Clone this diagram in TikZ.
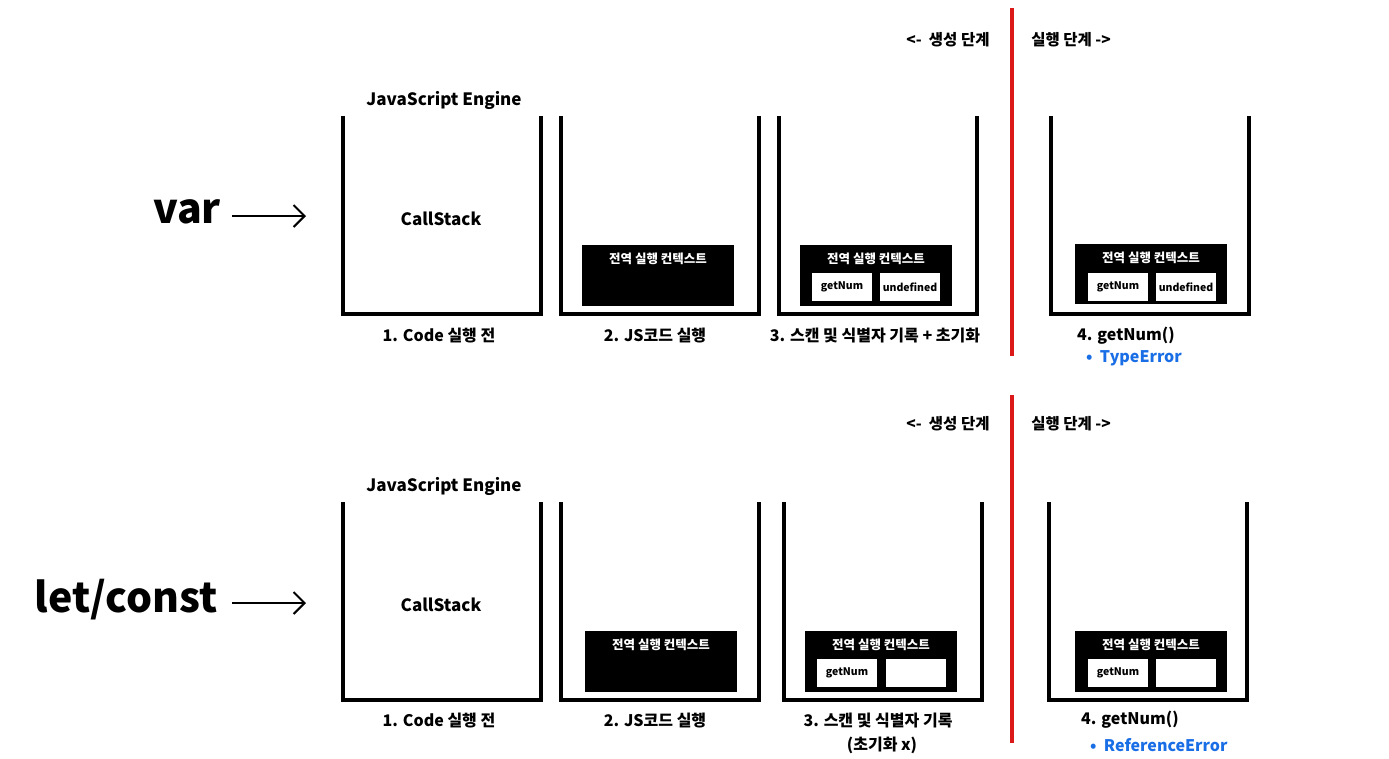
\documentclass[tikz,border=0pt]{standalone}
\usepackage{fontspec}
\setmainfont{Noto Sans CJK KR}
\usetikzlibrary{arrows.meta}
\definecolor{errblue}{RGB}{25,110,230}
\definecolor{phasered}{RGB}{220,25,25}
\tikzset{
  stack/.style={line width=4.5pt},
  ctxfill/.style={fill=black},
  ctxtitle/.style={text=white,inner sep=0pt,font=\fontsize{12.5}{14}\selectfont\bfseries},
  slot/.style={fill=white,inner sep=0pt,minimum width=60pt,minimum height=28pt,font=\fontsize{10.5}{12}\selectfont\bfseries},
  caption/.style={inner sep=0pt,font=\fontsize{16}{18}\selectfont\bfseries},
  engine/.style={inner sep=0pt,font=\fontsize{17}{19}\selectfont\bfseries},
  phase/.style={inner sep=0pt,font=\fontsize{15.5}{17}\selectfont\bfseries},
  kw/.style={inner sep=0pt,font=\fontsize{41}{45}\selectfont\bfseries},
  err/.style={inner sep=0pt,text=errblue,font=\fontsize{16}{18}\selectfont\bfseries},
  arr/.style={line width=2pt,-{Straight Barb[length=11pt,width=22pt,line width=2pt]}},
  divider/.style={phasered,line width=4pt}
}
\begin{document}
\begin{tikzpicture}[x=1pt,y=-1pt]
\useasboundingbox (0,0) rectangle (1389,758);
% stacks (open at the top)
\foreach \bx/\ty in {343/116,561/116,779/116,1051/116,343/502,561/502,784/502,1049/502}
  \draw[stack] (\bx,\ty) -- (\bx,\ty+198) -- (\bx+198,\ty+198) -- (\bx+198,\ty);
% ---- var ----
\node[kw] (var) at (187,212) {var};
\coordinate (varin) at (232,216);
\coordinate (varout) at (306,216);
\draw[arr] (varin) -- (varout);
\node[engine] (engA) at (444,100) {JavaScript Engine};
\node[engine] (csA) at (441,219) {CallStack};
\fill[ctxfill] (582,245) rectangle (734,306);
\node[ctxtitle] (t2A) at (658,259) {전역 실행 컨텍스트};
\fill[ctxfill] (800,245) rectangle (952,306);
\node[ctxtitle] (t3A) at (876,259) {전역 실행 컨텍스트};
\node[slot] (n3A) at (842,287) {getNum};
\node[slot] (v3A) at (910,287) {undefined};
\fill[ctxfill] (1075,244) rectangle (1227,304);
\node[ctxtitle] (t4A) at (1151,258) {전역 실행 컨텍스트};
\node[slot] (n4A) at (1118,287) {getNum};
\node[slot] (v4A) at (1186,287) {undefined};
\node[caption] (c1A) at (439,336) {1. Code 실행 전};
\node[caption] (c2A) at (655,336) {2. JS코드 실행};
\node[caption] (c3A) at (875,336) {3. 스캔 및 식별자 기록 + 초기화};
\node[caption,anchor=west] (c4A) at (1077,336) {4. getNum()};
\node[err,anchor=west] (e4A) at (1086,358) {•\ \ TypeError};
\draw[divider] (1012,8) -- (1012,356);
\node[phase] (pcA) at (948,40) {<-\ \ 생성 단계};
\node[phase] (peA) at (1071,40) {실행 단계 ->};
% ---- let/const ----
\node[kw] (let) at (126,600) {let/const};
\coordinate (letin) at (232,603);
\coordinate (letout) at (306,603);
\draw[arr] (letin) -- (letout);
\node[engine] (engB) at (444,486) {JavaScript Engine};
\node[engine] (csB) at (441,605) {CallStack};
\fill[ctxfill] (585,631) rectangle (737,692);
\node[ctxtitle] (t2B) at (661,645) {전역 실행 컨텍스트};
\fill[ctxfill] (805,631) rectangle (957,692);
\node[ctxtitle] (t3B) at (881,645) {전역 실행 컨텍스트};
\node[slot] (n3B) at (847,673) {getNum};
\node[slot] (v3B) at (916,673) {};
\fill[ctxfill] (1075,631) rectangle (1227,692);
\node[ctxtitle] (t4B) at (1151,645) {전역 실행 컨텍스트};
\node[slot] (n4B) at (1118,673) {getNum};
\node[slot] (v4B) at (1186,673) {};
\node[caption] (c1B) at (439,721) {1. Code 실행 전};
\node[caption] (c2B) at (655,721) {2. JS코드 실행};
\node[caption] (c3B) at (878,720) {3. 스캔 및 식별자 기록};
\node[caption] (c3Bx) at (882,745) {(초기화 x)};
\node[caption,anchor=west] (c4B) at (1081,720) {4. getNum()};
\node[err,anchor=west] (e4B) at (1090,745) {•\ \ ReferenceError};
\draw[divider] (1012,395) -- (1012,743);
\node[phase] (pcB) at (948,424) {<-\ \ 생성 단계};
\node[phase] (peB) at (1071,424) {실행 단계 ->};
\end{tikzpicture}
\end{document}
